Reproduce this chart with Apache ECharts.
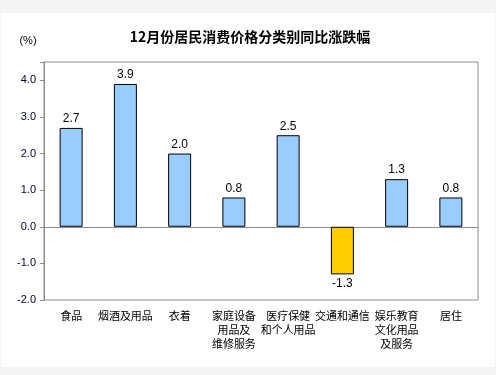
<!DOCTYPE html>
<html><head><meta charset="utf-8">
<script src="https://cdn.jsdelivr.net/npm/echarts@6/dist/echarts.min.js"></script>
<style>html,body{margin:0;padding:0;background:#f4f4f4;}#c{width:496px;height:375px;}</style>
</head><body><div id="c"></div>
<script>
var categories = ['食品','烟酒及用品','衣着','家庭设备\n用品及\n维修服务','医疗保健\n和个人用品','交通和通信','娱乐教育\n文化用品\n及服务','居住'];
var values = [2.7, 3.9, 2.0, 0.8, 2.5, -1.3, 1.3, 0.8];
var yTicks = [-2.0, -1.0, 0.0, 1.0, 2.0, 3.0, 4.0];
var title = '12月份居民消费价格分类别同比涨跌幅';
var unit = '(%)';

var chart = echarts.init(document.getElementById('c'));
var fontCN = '"Noto Sans CJK SC", sans-serif';
var fontNum = '"Liberation Sans", Arial, sans-serif';
chart.setOption({
  backgroundColor: '#f4f4f4',
  animation: false,
  graphic: [
    {type:'rect', z:-10, shape:{x:1,y:13,width:494,height:354}, style:{fill:'#ffffff'}},
    {type:'text', x: 250, y: 37, style:{text: title, font:'bold 14px ' + fontCN, fill:'#000', align:'center', verticalAlign:'middle'}},
    {type:'text', x: 28, y: 41, style:{text: unit, font:'11px ' + fontNum, fill:'#000', align:'center', verticalAlign:'middle'}}
  ],
  grid: {left:44, top:62, width:434, height:238, show:true, borderColor:'#8c8c8c', borderWidth:1, backgroundColor:'transparent'},
  xAxis: {
    type:'category', data: categories,
    axisLine:{onZero:true, lineStyle:{color:'#8c8c8c'}},
    axisTick:{show:false},
    axisLabel:{interval:0, color:'#000', fontFamily:fontCN, fontSize:11, lineHeight:14, margin:9},
    position:'bottom'
  },
  yAxis: {
    type:'value', min:-2, max:4.5, interval:1,
    splitLine:{show:false},
    axisLine:{show:true, lineStyle:{color:'#8c8c8c'}},
    axisTick:{show:true, length:4, lineStyle:{color:'#8c8c8c'}},
    axisLabel:{color:'#000033', fontFamily:fontNum, fontSize:11, margin:8,
      formatter:function(v){ return (yTicks.indexOf(v) >= 0) ? v.toFixed(1) : ''; }}
  },
  series: [{
    type:'bar', barWidth:23,
    data: values.map(function(v){
      return {value:v, itemStyle:{color: v < 0 ? '#ffcc00' : '#99ccff', borderColor:'#000', borderWidth:1},
        label:{show:true, position: v < 0 ? 'bottom' : 'top', distance:3, formatter: v.toFixed(1),
          color:'#000', fontFamily:fontNum, fontSize:12}};
    })
  }]
});
</script></body></html>
